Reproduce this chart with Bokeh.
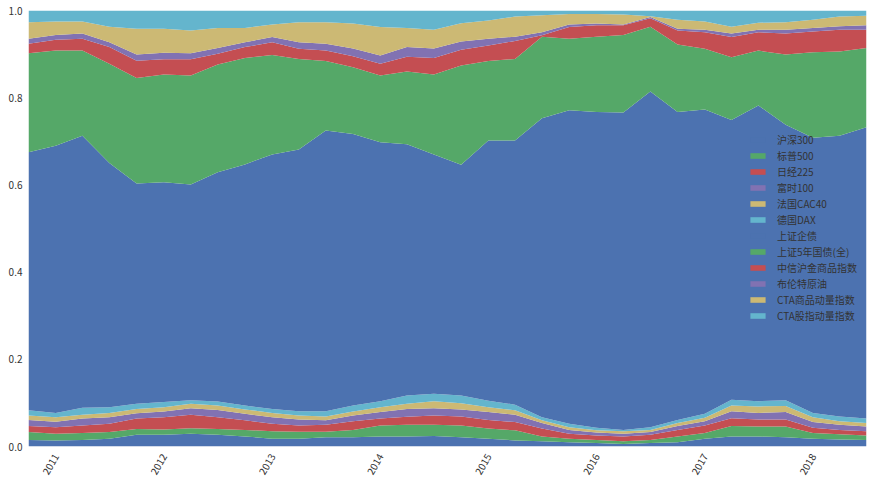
import math
import pandas as pd
from bokeh.plotting import figure
from bokeh.models import (ColumnDataSource, Range1d, FixedTicker, PrintfTickFormatter,
                          DatetimeTickFormatter, Legend, LegendItem)
from bokeh.embed import file_html
from bokeh.resources import INLINE

dates = ["2010-09-30", "2010-12-31",
         "2011-03-31", "2011-06-30", "2011-09-30", "2011-12-31",
         "2012-03-31", "2012-06-30", "2012-09-30", "2012-12-31",
         "2013-03-31", "2013-06-30", "2013-09-30", "2013-12-31",
         "2014-03-31", "2014-06-30", "2014-09-30", "2014-12-31",
         "2015-03-31", "2015-06-30", "2015-09-30", "2015-12-31",
         "2016-03-31", "2016-06-30", "2016-09-30", "2016-12-31",
         "2017-03-31", "2017-06-30", "2017-09-30", "2017-12-31",
         "2018-03-31", "2018-06-30"]

year_ticks = [2011, 2012, 2013, 2014, 2015, 2016, 2017, 2018]
y_ticks = [0.0, 0.2, 0.4, 0.6, 0.8, 1.0]

names = ["沪深300", "标普500", "日经225", "富时100", "法国CAC40", "德国DAX",
         "上证企债", "上证5年国债(全)", "中信沪金商品指数", "布伦特原油",
         "CTA商品动量指数", "CTA股指动量指数"]

hs300 = [0.015, 0.014, 0.015, 0.018, 0.027, 0.027, 0.029, 0.027, 0.023, 0.018, 0.018, 0.021,
         0.021, 0.023, 0.023, 0.024, 0.021, 0.018, 0.014, 0.012, 0.010, 0.008, 0.006, 0.008,
         0.010, 0.018, 0.023, 0.023, 0.021, 0.018, 0.016, 0.015]
sp500 = [0.018, 0.015, 0.016, 0.015, 0.013, 0.012, 0.013, 0.013, 0.015, 0.017, 0.016, 0.013,
         0.017, 0.025, 0.027, 0.026, 0.027, 0.023, 0.023, 0.011, 0.008, 0.007, 0.006, 0.007,
         0.013, 0.013, 0.024, 0.023, 0.025, 0.013, 0.012, 0.010]
nikkei = [0.014, 0.015, 0.017, 0.019, 0.024, 0.028, 0.031, 0.027, 0.022, 0.017, 0.014, 0.016,
          0.020, 0.016, 0.018, 0.021, 0.021, 0.020, 0.019, 0.018, 0.011, 0.010, 0.011, 0.012,
          0.015, 0.017, 0.018, 0.016, 0.016, 0.012, 0.010, 0.010]
ftse = [0.014, 0.013, 0.016, 0.015, 0.012, 0.013, 0.015, 0.017, 0.015, 0.015, 0.014, 0.010,
        0.013, 0.015, 0.018, 0.017, 0.016, 0.018, 0.017, 0.013, 0.009, 0.007, 0.006, 0.006,
        0.009, 0.010, 0.016, 0.015, 0.017, 0.013, 0.012, 0.011]
cac40 = [0.010, 0.010, 0.009, 0.010, 0.010, 0.010, 0.010, 0.010, 0.010, 0.010, 0.009, 0.009,
         0.009, 0.011, 0.012, 0.016, 0.014, 0.011, 0.010, 0.006, 0.006, 0.005, 0.006, 0.005,
         0.007, 0.008, 0.013, 0.015, 0.014, 0.011, 0.008, 0.008]
dax = [0.012, 0.010, 0.016, 0.013, 0.012, 0.012, 0.008, 0.009, 0.009, 0.009, 0.010, 0.012,
       0.014, 0.014, 0.019, 0.017, 0.018, 0.015, 0.013, 0.007, 0.008, 0.006, 0.003, 0.006,
       0.007, 0.009, 0.013, 0.012, 0.013, 0.010, 0.011, 0.010]
corp_bond = [0.592, 0.613, 0.624, 0.560, 0.505, 0.504, 0.495, 0.526, 0.553, 0.584, 0.600, 0.644,
             0.623, 0.594, 0.576, 0.549, 0.529, 0.597, 0.606, 0.686, 0.719, 0.724, 0.728, 0.770,
             0.706, 0.698, 0.642, 0.678, 0.632, 0.631, 0.644, 0.668]
treasury5y = [0.227, 0.218, 0.195, 0.228, 0.242, 0.247, 0.250, 0.247, 0.244, 0.228, 0.208, 0.159,
              0.153, 0.153, 0.167, 0.183, 0.228, 0.182, 0.187, 0.187, 0.164, 0.173, 0.178, 0.149,
              0.155, 0.139, 0.144, 0.126, 0.161, 0.196, 0.193, 0.182]
gold = [0.022, 0.025, 0.027, 0.038, 0.040, 0.035, 0.037, 0.025, 0.025, 0.029, 0.023, 0.024,
        0.025, 0.027, 0.034, 0.038, 0.036, 0.036, 0.041, 0.003, 0.027, 0.026, 0.022, 0.019,
        0.032, 0.038, 0.046, 0.042, 0.048, 0.048, 0.050, 0.042]
brent = [0.011, 0.011, 0.012, 0.011, 0.014, 0.015, 0.014, 0.013, 0.011, 0.012, 0.015, 0.016,
         0.018, 0.019, 0.022, 0.022, 0.019, 0.015, 0.010, 0.007, 0.006, 0.004, 0.002, 0.003,
         0.004, 0.006, 0.008, 0.006, 0.009, 0.008, 0.008, 0.010]
cta_comm = [0.038, 0.031, 0.028, 0.036, 0.059, 0.055, 0.052, 0.046, 0.033, 0.029, 0.046, 0.049,
            0.057, 0.065, 0.044, 0.043, 0.042, 0.042, 0.046, 0.039, 0.024, 0.022, 0.023, 0.002,
            0.021, 0.019, 0.016, 0.016, 0.017, 0.019, 0.022, 0.022]
cta_index = [0.027, 0.025, 0.025, 0.037, 0.042, 0.042, 0.046, 0.040, 0.040, 0.032, 0.027, 0.027,
             0.030, 0.038, 0.040, 0.044, 0.029, 0.023, 0.014, 0.011, 0.008, 0.008, 0.009, 0.013,
             0.021, 0.025, 0.037, 0.028, 0.027, 0.021, 0.014, 0.012]

series = [hs300, sp500, nikkei, ftse, cac40, dax, corp_bond, treasury5y, gold, brent,
          cta_comm, cta_index]
palette = ["#4C72B0", "#55A868", "#C44E52", "#8172B2", "#CCB974", "#64B5CD"]
colors = [palette[i % len(palette)] for i in range(len(series))]

FONT = "Noto Sans CJK SC"

x = pd.to_datetime(dates)
keys = [f"s{i}" for i in range(len(series))]
data = {"date": x}
for k, s in zip(keys, series):
    data[k] = s
source = ColumnDataSource(data)

p = figure(width=872, height=484, x_axis_type="datetime", output_backend="svg",
           toolbar_location=None,
           x_range=Range1d(x[0], x[-1]), y_range=Range1d(0, 1),
           min_border_left=28, min_border_right=6, min_border_top=10, min_border_bottom=38)

renderers = p.varea_stack(stackers=keys, x="date", source=source, color=colors)

p.grid.visible = False
p.outline_line_color = None
p.background_fill_color = "white"

tick_ms = [pd.Timestamp(f"{yr}-01-01").value / 1e6 for yr in year_ticks]
p.xaxis.ticker = FixedTicker(ticks=tick_ms)
p.xaxis.formatter = DatetimeTickFormatter(years="%Y", months="%Y", days="%Y")
p.xaxis.major_label_orientation = math.pi / 3
p.yaxis.ticker = FixedTicker(ticks=y_ticks)
p.yaxis.formatter = PrintfTickFormatter(format="%.1f")

for ax in (p.xaxis, p.yaxis):
    ax.axis_line_color = None
    ax.major_tick_line_color = None
    ax.minor_tick_line_color = None
    ax.major_tick_out = 0
    ax.major_tick_in = 0
    ax.major_label_text_font = FONT
    ax.major_label_text_font_size = "10px"
    ax.major_label_text_color = "#333333"
p.yaxis.major_label_standoff = 6
p.xaxis.major_label_standoff = 8

legend = Legend(items=[LegendItem(label=n, renderers=[r]) for n, r in zip(names, renderers)],
                location=(720, 123), background_fill_alpha=0, border_line_color=None,
                label_text_font=FONT, label_text_font_size="10px", label_text_color="#333333",
                glyph_width=19, glyph_height=7, label_height=16, spacing=0, padding=0,
                margin=0, label_standoff=10)
p.add_layout(legend)

open("out.html", "w").write(file_html(p, INLINE))
